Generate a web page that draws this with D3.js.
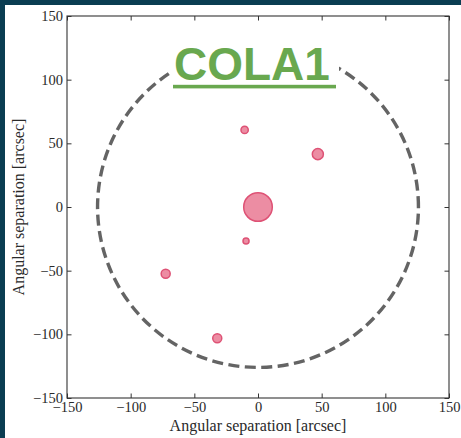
<!DOCTYPE html>
<html>
<head>
<meta charset="utf-8">
<script src="https://cdn.jsdelivr.net/npm/d3@7"></script>
<style>
  html, body { margin: 0; padding: 0; background: #0a3d52; }
  svg { display: block; }
</style>
</head>
<body>
<svg id="chart" width="461" height="438"></svg>
<script>
// Source positions relative to COLA1, in arcsec
const sourceX = [0, -10.5, 47, -9.4, -72.5, -32];
const sourceY = [0, 60.5, 41.5, -26.7, -52.5, -103];
// Relative source weight (marker area)
const sourceWeight = [200, 13, 30, 9, 20, 20];
// Search radius around the target, arcsec
const searchRadius = [126];
const tickValues = [-150, -100, -50, 0, 50, 100, 150];
const axisDomain = [-150, 150];
const titleText = ["COLA1"];
const xLabel = ["Angular separation [arcsec]"];
const yLabel = ["Angular separation [arcsec]"];

(function draw() {
  const svg = d3.select("#chart");
  const W = 461, H = 438;

  // page frame: dark band on top and left, white panel
  svg.append("rect").attr("width", W).attr("height", H).attr("fill", "#0a3d52");
  svg.append("rect").attr("x", 5).attr("y", 5).attr("width", W - 5).attr("height", H - 5).attr("fill", "#ffffff");

  const pLeft = 67, pRight = 449, pTop = 16, pBottom = 398;
  const x = d3.scaleLinear().domain(axisDomain).range([pLeft, pRight]);
  const y = d3.scaleLinear().domain(axisDomain).range([pBottom, pTop]);
  const r = d3.scaleSqrt().domain([0, 200]).range([0, 14.3]);

  const serif = "'Liberation Serif', 'DejaVu Serif', serif";
  const minus = v => (v < 0 ? "\u2212" + Math.abs(v) : String(v));

  // dashed search circle (path starts at angle 0 and runs counter-clockwise on screen)
  const p = d3.path();
  const cx = x(0), cy = y(0), rp = x(searchRadius[0]) - x(0);
  p.moveTo(cx + rp, cy);
  p.arc(cx, cy, rp, 0, -2 * Math.PI, true);
  svg.append("path")
    .attr("d", p.toString())
    .attr("fill", "none")
    .attr("stroke", "#646464")
    .attr("stroke-width", 3.4)
    .attr("stroke-dasharray", "11,5.5");

  // sources
  const pts = sourceX.map((d, i) => ({ x: d, y: sourceY[i], w: sourceWeight[i] }));
  svg.append("g").selectAll("circle").data(pts).join("circle")
    .attr("cx", d => x(d.x))
    .attr("cy", d => y(d.y))
    .attr("r", d => r(d.w))
    .attr("fill", "#e7718c")
    .attr("fill-opacity", 0.8)
    .attr("stroke", "#de5275")
    .attr("stroke-width", 1.5);

  // spines
  svg.append("rect")
    .attr("x", pLeft).attr("y", pTop)
    .attr("width", pRight - pLeft).attr("height", pBottom - pTop)
    .attr("fill", "none").attr("stroke", "#333").attr("stroke-width", 1.1);

  // inward ticks on all four sides
  const tickLen = 4.5;
  const axisStyle = g => {
    g.select(".domain").remove();
    g.selectAll("line").attr("stroke", "#333").attr("stroke-width", 1);
    g.selectAll("text").attr("fill", "#2a2a2a").style("font-family", serif).style("font-size", "14.5px");
  };
  svg.append("g").attr("transform", `translate(0,${pBottom})`)
    .call(d3.axisBottom(x).tickValues(tickValues).tickFormat(minus).tickSizeInner(-tickLen).tickPadding(4))
    .call(axisStyle);
  svg.append("g").attr("transform", `translate(0,${pTop})`)
    .call(d3.axisTop(x).tickValues(tickValues).tickFormat("").tickSizeInner(-tickLen))
    .call(axisStyle);
  svg.append("g").attr("transform", `translate(${pLeft},0)`)
    .call(d3.axisLeft(y).tickValues(tickValues).tickFormat(minus).tickSizeInner(-tickLen).tickPadding(4))
    .call(axisStyle);
  svg.append("g").attr("transform", `translate(${pRight},0)`)
    .call(d3.axisRight(y).tickValues(tickValues).tickFormat("").tickSizeInner(-tickLen))
    .call(axisStyle);

  // axis titles
  svg.append("text")
    .attr("x", (pLeft + pRight) / 2).attr("y", 431)
    .attr("text-anchor", "middle")
    .attr("fill", "#2a2a2a")
    .style("font-family", serif).style("font-size", "16px")
    .text(xLabel[0]);
  svg.append("text")
    .attr("transform", `translate(23.5,${(pTop + pBottom) / 2}) rotate(-90)`)
    .attr("text-anchor", "middle")
    .attr("fill", "#2a2a2a")
    .style("font-family", serif).style("font-size", "16px")
    .text(yLabel[0]);

  // target name with white backing that breaks the circle
  svg.append("rect")
    .attr("x", 171).attr("y", 40).attr("width", 168).attr("height", 52)
    .attr("fill", "#ffffff");
  svg.append("text")
    .attr("x", 174).attr("y", 80)
    .attr("fill", "#69a84f")
    .style("font-family", "'Liberation Sans', Arial, sans-serif")
    .style("font-weight", "bold")
    .style("font-size", "46px")
    .text(titleText[0]);
  svg.append("rect")
    .attr("x", 173).attr("y", 84.8).attr("width", 163).attr("height", 3.6)
    .attr("fill", "#69a84f");
})();
</script>
</body>
</html>
